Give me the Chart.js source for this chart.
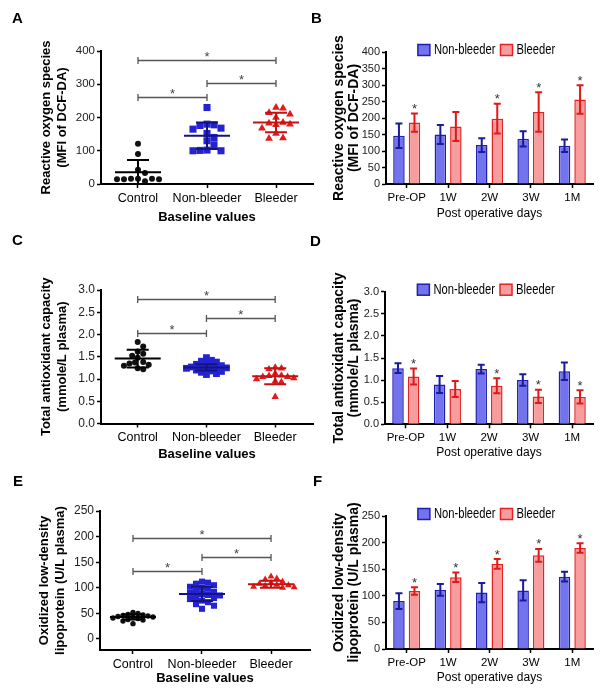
<!DOCTYPE html>
<html lang="en">
<head>
<meta charset="UTF-8">
<title>Oxidative stress markers</title>
<script src="https://cdn.jsdelivr.net/npm/chart.js"></script>
<style>
  body { margin: 0; background: #fff; }
  #wrap { position: relative; width: 604px; height: 696px; }
  canvas { position: absolute; left: 0; top: 0; }
  .tag { position: absolute; font: bold 15px Arial, "Liberation Sans", sans-serif; line-height: 16px; color: #000; }
</style>
</head>
<body>
<div id="wrap">
  <canvas id="chartA" width="604" height="696"></canvas>
  <canvas id="chartB" width="604" height="696"></canvas>
  <canvas id="chartC" width="604" height="696"></canvas>
  <canvas id="chartD" width="604" height="696"></canvas>
  <canvas id="chartE" width="604" height="696"></canvas>
  <canvas id="chartF" width="604" height="696"></canvas>
  <div class="tag" style="left:12px;top:10px">A</div>
  <div class="tag" style="left:311px;top:10px">B</div>
  <div class="tag" style="left:12px;top:232px">C</div>
  <div class="tag" style="left:310px;top:233px">D</div>
  <div class="tag" style="left:13px;top:473px">E</div>
  <div class="tag" style="left:313px;top:473px">F</div>
</div>
<script>
// categories
const groups = ['Control', 'Non-bleeder', 'Bleeder'];
const days = ['Pre-OP', '1W', '2W', '3W', '1M'];
const seriesNames = ['Non-bleeder', 'Bleeder'];

// A - reactive oxygen species, baseline (each patient)
const rosControl = [121, 90, 43, 33, 16, 16, 16, 14, 14, 14, 8];
const rosNonBleeder = [230, 180, 178, 176, 168, 165, 152, 140, 130, 118, 102, 100, 100, 101];
const rosBleeder = [230, 228, 214, 210, 200, 185, 183, 180, 178, 168, 152, 138, 137];
const rosGroupMean = [35, 145, 185];
const rosGroupSD = [37, 40, 29];
const rosSig = [[0, 1, 262], [1, 2, 304], [0, 2, 372]];
const rosTicks = [0, 50, 100, 150, 200, 250, 300, 350, 400];

// B - reactive oxygen species over time (mean, SD)
const rosNbMean = [146, 150, 118, 137, 116];
const rosNbSD = [37, 29, 21, 23, 19];
const rosBlMean = [186, 174, 198, 218, 256];
const rosBlSD = [28, 44, 45, 60, 43];
const rosBlStar = [1, 0, 1, 1, 1];

// C - total antioxidant capacity, baseline
const taxControl = [1.83, 1.73, 1.62, 1.57, 1.52, 1.48, 1.38, 1.37, 1.35, 1.32, 1.30, 1.24, 1.22];
const taxNonBleeder = [1.48, 1.42, 1.40, 1.38, 1.35, 1.33, 1.30, 1.30, 1.28, 1.27, 1.26, 1.25, 1.24, 1.22, 1.20, 1.18, 1.17, 1.15, 1.12, 1.10];
const taxBleeder = [1.26, 1.24, 1.22, 1.12, 1.08, 1.07, 1.05, 1.05, 1.02, 1.00, 0.95, 0.93, 0.60];
const taxGroupMean = [1.46, 1.26, 1.06];
const taxGroupSD = [0.20, 0.07, 0.18];
const taxSig = [[0, 1, 2.03], [1, 2, 2.37], [0, 2, 2.80]];
const taxTicks = [0, 0.5, 1.0, 1.5, 2.0, 2.5, 3.0];

// D - total antioxidant capacity over time
const taxNbMean = [1.27, 0.90, 1.25, 1.00, 1.20];
const taxNbSD = [0.11, 0.19, 0.10, 0.13, 0.20];
const taxBlMean = [1.08, 0.80, 0.87, 0.63, 0.62];
const taxBlSD = [0.18, 0.18, 0.17, 0.15, 0.15];
const taxBlStar = [1, 0, 1, 1, 1];

// E - oxidized LDL, baseline
const oxControl = [52, 50, 48, 47, 46, 45, 44, 43, 42, 41, 40, 38, 37, 35, 30];
const oxNonBleeder = [112, 110, 108, 105, 102, 100, 98, 95, 92, 90, 88, 86, 85, 82, 80, 78, 75, 72, 68, 65, 59];
const oxBleeder = [122, 118, 116, 112, 110, 108, 106, 105, 104, 102, 101, 100];
const oxGroupMean = [43, 88, 107];
const oxGroupSD = [5, 14, 7];
const oxSig = [[0, 1, 133], [1, 2, 160], [0, 2, 197]];
const oxTicks = [0, 50, 100, 150, 200, 250];

// F - oxidized LDL over time
const oxNbMean = [90, 111, 106, 110, 136];
const oxNbSD = [15, 11, 18, 19, 9];
const oxBlMean = [109, 135, 160, 176, 190];
const oxBlSD = [7, 9, 9, 12, 9];
const oxBlStar = [1, 1, 1, 1, 1];

const W = 604, H = 696;
const ARIAL = 'Arial, "Liberation Sans", sans-serif';

// every canvas covers the whole page, so frames are page coordinates
function pad(f, yw, xh) {
  return { left: f.l - yw, top: f.t, right: W - f.r, bottom: H - f.b - xh };
}

// simple beeswarm so dots with close values sit side by side
function swarm(values, center, f, xr, yr, d) {
  const pxX = (f.r - f.l) / (xr[1] - xr[0]);
  const pxY = (f.b - f.t) / (yr[1] - yr[0]);
  const order = values.map((v, i) => i).sort((a, b) => values[b] - values[a]);
  const placed = [], pts = [];
  order.forEach(i => {
    const py = values[i] * pxY;
    let off = 0;
    for (let k = 0; k < 80; k++) {
      const cand = (k % 2 ? 1 : -1) * Math.ceil(k / 2) * d / 2;
      if (placed.every(p => Math.hypot(p.x - cand, p.y - py) >= d)) { off = cand; break; }
    }
    placed.push({ x: off, y: py });
    pts.push({ x: center + off / pxX, y: values[i] });
  });
  return pts;
}

const axisGrid = { drawOnChartArea: false, color: '#000', tickLength: 4, tickWidth: 1.5 };
const axisBorder = { color: '#000', width: 2 };

function scatterDeco(p) {
  const cols = ['#000', '#14147e', '#c41212'];
  return {
    id: 'scatterDeco',
    afterDatasetsDraw(chart) {
      const { ctx, scales: { x, y } } = chart;
      ctx.save();
      ctx.lineWidth = 2;
      p.mean.forEach((m, g) => {
        const xc = x.getPixelForValue(g + 1);
        const yM = y.getPixelForValue(m);
        const yU = y.getPixelForValue(m + p.sd[g]);
        const yL = y.getPixelForValue(Math.max(m - p.sd[g], p.yMin));
        ctx.strokeStyle = cols[g];
        ctx.beginPath();
        ctx.moveTo(xc - 23, yM); ctx.lineTo(xc + 23, yM);
        ctx.moveTo(xc, yU); ctx.lineTo(xc, yL);
        ctx.moveTo(xc - 11, yU); ctx.lineTo(xc + 11, yU);
        ctx.moveTo(xc - 11, yL); ctx.lineTo(xc + 11, yL);
        ctx.stroke();
      });
      ctx.strokeStyle = '#555';
      ctx.lineWidth = 1.3;
      ctx.fillStyle = '#444';
      ctx.font = '13px ' + ARIAL;
      ctx.textAlign = 'center';
      ctx.textBaseline = 'alphabetic';
      p.sig.forEach(([a, b, v]) => {
        const x1 = x.getPixelForValue(a + 1), x2 = x.getPixelForValue(b + 1);
        const yy = Math.round(y.getPixelForValue(v)) + 0.5;
        ctx.beginPath();
        ctx.moveTo(x1, yy); ctx.lineTo(x2, yy);
        ctx.moveTo(x1, yy - 3.5); ctx.lineTo(x1, yy + 3.5);
        ctx.moveTo(x2, yy - 3.5); ctx.lineTo(x2, yy + 3.5);
        ctx.stroke();
        ctx.fillText('*', (x1 + x2) / 2, yy + 0.5);
      });
      ctx.restore();
    }
  };
}

function scatterPanel(id, p) {
  const styles = [
    { c: '#111', s: 'circle', r: p.r[0] },
    { c: '#2323d4', s: 'rect', r: p.r[1] },
    { c: '#e01c1c', s: 'triangle', r: p.r[2] }
  ];
  const xr = [p.xMin, p.xMax], yr = [p.yMin, p.yMax];
  new Chart(document.getElementById(id), {
    type: 'scatter',
    data: {
      datasets: p.values.map((vals, g) => ({
        label: groups[g],
        data: swarm(vals, g + 1, p.f, xr, yr, p.d[g]),
        pointStyle: styles[g].s,
        pointRadius: styles[g].r,
        pointBackgroundColor: styles[g].c,
        pointBorderWidth: 0,
        clip: false
      }))
    },
    options: {
      responsive: false,
      animation: false,
      events: [],
      layout: { padding: pad(p.f, p.yw, p.xh) },
      plugins: { legend: { display: false }, tooltip: { enabled: false } },
      scales: {
        x: {
          type: 'linear', min: p.xMin, max: p.xMax,
          afterBuildTicks: s => { s.ticks = groups.map((g, i) => ({ value: i + 1 })); },
          afterFit: s => { s.height = p.xh; },
          ticks: { callback: v => groups[v - 1], autoSkip: false, maxRotation: 0, minRotation: 0,
                   color: '#000', font: { family: ARIAL, size: 12.5 }, padding: 3 },
          grid: axisGrid, border: axisBorder,
          title: { display: true, text: 'Baseline values', color: '#000',
                   font: { family: ARIAL, size: 13, weight: 'bold' }, padding: { top: 0, bottom: 4 } }
        },
        y: {
          type: 'linear', min: p.yMin, max: p.yMax,
          afterBuildTicks: s => { s.ticks = p.ticks.map(v => ({ value: v })); },
          afterFit: s => { s.width = p.yw; },
          ticks: { callback: p.fmt, color: '#222', font: { family: ARIAL, size: p.tickSize }, padding: 2 },
          grid: axisGrid, border: axisBorder,
          title: { display: true, text: p.title, color: '#000',
                   font: { family: ARIAL, size: 13, weight: 'bold', lineHeight: 1.2 }, padding: { top: 4, bottom: 0 } }
        }
      }
    },
    plugins: [scatterDeco(p)]
  });
}

function barDeco(p) {
  return {
    id: 'barDeco',
    afterDatasetsDraw(chart) {
      const { ctx, chartArea } = chart;
      const y = chart.scales.y;
      const sets = [[p.nb, p.nbSD, '#1a1a9c'], [p.bl, p.blSD, '#e01818']];
      ctx.save();
      sets.forEach(([m, s, col], di) => {
        chart.getDatasetMeta(di).data.forEach((bar, i) => {
          const yt = y.getPixelForValue(m[i] + s[i]);
          const yb = y.getPixelForValue(m[i] - s[i]);
          ctx.strokeStyle = col;
          ctx.lineWidth = 2;
          ctx.beginPath();
          ctx.moveTo(bar.x, yt); ctx.lineTo(bar.x, yb);
          ctx.moveTo(bar.x - 3.5, yt); ctx.lineTo(bar.x + 3.5, yt);
          ctx.moveTo(bar.x - 3.5, yb); ctx.lineTo(bar.x + 3.5, yb);
          ctx.stroke();
          if (di === 1 && p.star[i]) {
            ctx.fillStyle = '#333';
            ctx.font = '13px ' + ARIAL;
            ctx.textAlign = 'center';
            ctx.textBaseline = 'alphabetic';
            ctx.fillText('*', bar.x, yt - 0.5);
          }
        });
      });
      // legend sits on the top edge of the plot, text squeezed like a narrow face
      const ds = chart.data.datasets;
      const squeeze = 0.8;
      ctx.font = '14px ' + ARIAL;
      ctx.textAlign = 'left';
      ctx.textBaseline = 'middle';
      const bw = 12, bh = 11, gap = 4, sep = 5;
      const widths = ds.map(d => ctx.measureText(d.label).width * squeeze);
      const total = widths.reduce((a, w) => a + bw + gap + w, 0) + sep * (ds.length - 1);
      let lx = (chartArea.left + chartArea.right) / 2 - total / 2 - 3;
      const ly = chartArea.top - 2;
      ds.forEach((d, i) => {
        ctx.fillStyle = d.backgroundColor;
        ctx.fillRect(lx, ly - bh / 2, bw, bh);
        ctx.strokeStyle = d.borderColor;
        ctx.lineWidth = 1.5;
        ctx.strokeRect(lx, ly - bh / 2, bw, bh);
        lx += bw + gap;
        ctx.save();
        ctx.translate(lx, ly);
        ctx.scale(squeeze, 1);
        ctx.fillStyle = '#000';
        ctx.fillText(d.label, 0, 0);
        ctx.restore();
        lx += widths[i] + sep;
      });
      ctx.restore();
    }
  };
}

function barPanel(id, p) {
  new Chart(document.getElementById(id), {
    type: 'bar',
    data: {
      labels: days,
      datasets: [
        { label: seriesNames[0], data: p.nb, backgroundColor: '#7373ee', borderColor: '#2020b0',
          borderWidth: 1.5, categoryPercentage: 0.75, barPercentage: 0.74 },
        { label: seriesNames[1], data: p.bl, backgroundColor: '#f89d9d', borderColor: '#e42424',
          borderWidth: 1.5, categoryPercentage: 0.75, barPercentage: 0.74 }
      ]
    },
    options: {
      responsive: false,
      animation: false,
      events: [],
      layout: { padding: pad(p.f, p.yw, p.xh) },
      plugins: { legend: { display: false }, tooltip: { enabled: false } },
      scales: {
        x: {
          offset: true,
          afterFit: s => { s.height = p.xh; },
          ticks: { color: '#000', font: { family: ARIAL, size: 11.5 }, padding: 3,
                   autoSkip: false, maxRotation: 0, minRotation: 0 },
          grid: { drawOnChartArea: false, offset: false, color: '#000', tickLength: 4, tickWidth: 1.5 },
          border: axisBorder,
          title: { display: true, text: 'Post operative days', color: '#000',
                   font: { family: ARIAL, size: 12 }, padding: { top: 0, bottom: 5 } }
        },
        y: {
          min: p.yMin, max: p.yMax,
          afterBuildTicks: s => { s.ticks = p.ticks.map(v => ({ value: v })); },
          afterFit: s => { s.width = p.yw; },
          ticks: { callback: p.fmt, color: '#222', font: { family: ARIAL, size: 11 }, padding: 2 },
          grid: axisGrid, border: axisBorder,
          title: { display: true, text: p.title, color: '#000',
                   font: { family: ARIAL, size: 14, weight: 'bold', lineHeight: 1.1 }, padding: { top: 4, bottom: 0 } }
        }
      }
    },
    plugins: [barDeco(p)]
  });
}

const intFmt = v => String(v);
const decFmt = v => v.toFixed(1);

scatterPanel('chartA', {
  f: { l: 101, r: 313, t: 51, b: 184 }, yw: 66, xh: 45,
  xMin: 0.464, xMax: 3.536, yMin: 0, yMax: 400, ticks: rosTicks, fmt: intFmt, tickSize: 11.5,
  values: [rosControl, rosNonBleeder, rosBleeder], mean: rosGroupMean, sd: rosGroupSD, sig: rosSig,
  r: [3, 5, 4.5], d: [7, 7, 7],
  title: ['Reactive oxygen species', '(MFI of DCF-DA)']
});

barPanel('chartB', {
  f: { l: 386, r: 593, t: 52, b: 184 }, yw: 59, xh: 42,
  yMin: 0, yMax: 400, ticks: rosTicks, fmt: intFmt,
  nb: rosNbMean, nbSD: rosNbSD, bl: rosBlMean, blSD: rosBlSD, star: rosBlStar,
  title: ['Reactive oxygen species', '(MFI of DCF-DA)']
});

scatterPanel('chartC', {
  f: { l: 101, r: 313, t: 290, b: 423.5 }, yw: 66, xh: 43,
  xMin: 0.466, xMax: 3.55, yMin: 0, yMax: 3, ticks: taxTicks, fmt: decFmt, tickSize: 12,
  values: [taxControl, taxNonBleeder, taxBleeder], mean: taxGroupMean, sd: taxGroupSD, sig: taxSig,
  r: [3, 4.8, 4.3], d: [5.5, 5, 6.2],
  title: ['Total antioxidant capacity', '(mmole/L plasma)']
});

barPanel('chartD', {
  f: { l: 385, r: 593, t: 291.7, b: 424.3 }, yw: 58, xh: 41,
  yMin: 0, yMax: 3, ticks: taxTicks, fmt: decFmt,
  nb: taxNbMean, nbSD: taxNbSD, bl: taxBlMean, blSD: taxBlSD, star: taxBlStar,
  title: ['Total antioxidant capacity', '(mmole/L plasma)']
});

scatterPanel('chartE', {
  f: { l: 100, r: 310, t: 511, b: 650 }, yw: 67, xh: 40,
  xMin: 0.522, xMax: 3.565, yMin: -21.5, yMax: 250, ticks: oxTicks, fmt: intFmt, tickSize: 12,
  values: [oxControl, oxNonBleeder, oxBleeder], mean: oxGroupMean, sd: oxGroupSD, sig: oxSig,
  r: [2.7, 4.3, 4], d: [5, 6, 5.8],
  title: ['Oxidized low-density', 'lipoprotein (U/L plasma)']
});

barPanel('chartF', {
  f: { l: 386, r: 593, t: 516, b: 649 }, yw: 59, xh: 41,
  yMin: 0, yMax: 250, ticks: oxTicks, fmt: intFmt,
  nb: oxNbMean, nbSD: oxNbSD, bl: oxBlMean, blSD: oxBlSD, star: oxBlStar,
  title: ['Oxidized low-density', 'lipoprotein (U/L plasma)']
});
</script>
</body>
</html>
